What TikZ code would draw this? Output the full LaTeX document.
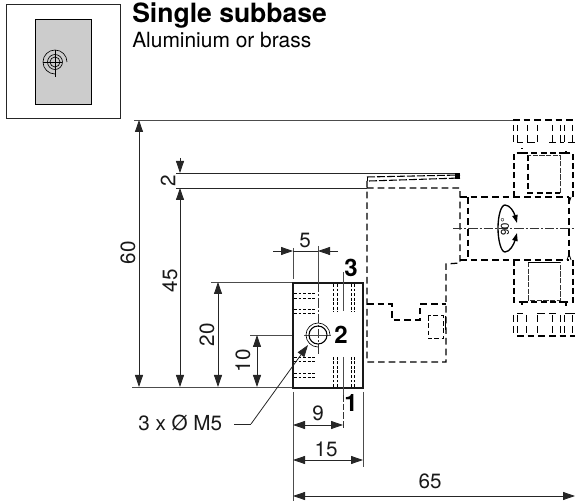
\documentclass[tikz,border=0pt]{standalone}
\usepackage{fontspec}
\setmainfont{TeX Gyre Heros}
\usetikzlibrary{arrows.meta}
\tikzset{
  x=0.75pt,y=-0.75pt,
  thin line/.style={line width=0.6pt,black!85},
  ext/.style={line width=0.55pt,black!70},
  hid/.style={line width=0.95pt,black,dash pattern=on 5pt off 3pt},
  hidfine/.style={line width=0.55pt,black,dash pattern=on 2.2pt off 1.2pt},
  hidport/.style={line width=0.85pt,black,dash pattern=on 4.5pt off 2.5pt},
  hidcomb/.style={line width=0.75pt,black},
  centre/.style={line width=0.5pt,black!80,dash pattern=on 7pt off 1.5pt on 1.5pt off 1.5pt},
  dim/.style={thin line,{Triangle[length=9pt,width=6pt]}-{Triangle[length=9pt,width=6pt]}},
  dimr/.style={thin line,-{Triangle[length=9pt,width=6pt]}},
  lab/.style={font=\fontsize{15.5pt}{17pt}\selectfont,inner sep=0pt,text=black!90},
  big/.style={font=\fontsize{18pt}{20pt}\selectfont\bfseries,inner sep=0pt},
}
\begin{document}
\begin{tikzpicture}
\useasboundingbox (0,0) rectangle (575,502);
% icon
\draw[line width=0.75pt,black!85] (6,5) rectangle (120,119);
\draw[line width=0.75pt,black,fill=black!20] (35,20) rectangle (91,105);
\draw[line width=0.5pt] (55,62) circle (7.5);
\draw[line width=0.5pt] (55,62) circle (5);
\draw[line width=0.5pt] (43,62) -- (62,62) (55,50) -- (55,77);
\draw[line width=0.5pt] (67,62) arc (0:-270:12);
% title
\node[anchor=base west,inner sep=0pt,font=\fontsize{19.9pt}{22pt}\selectfont\bfseries] (title) at (132,23) {Single subbase};
\node[anchor=base west,inner sep=0pt,font=\fontsize{15.7pt}{18pt}\selectfont] (sub) at (132,48) {Aluminium or brass};
% extension lines
\draw[ext] (134,120) -- (514,120);
\draw[ext] (132,387) -- (293,387);
\draw[thin line] (176,173) -- (460,173);
\draw[thin line] (176,188) -- (367,188);
\draw[ext] (211,282) -- (293,282);
\draw[ext] (250,335) -- (293,335);
% vertical dimensions
\draw[dim] (139,120) -- (139,387);
\draw[dimr] (180,158) -- (180,173);
\draw[dim] (180,188) -- (180,387);
\draw[dim] (218,282) -- (218,387);
\draw[dim] (257,335) -- (257,387);
\node[lab,rotate=90] (d60) at (128,253) {60};
\node[lab,rotate=90] (d45) at (170,281) {45};
\node[lab,rotate=90] (d2) at (168,181) {2};
\node[lab,rotate=90] (d20) at (207,335) {20};
\node[lab,rotate=90] (d10) at (243,361) {10};
% block
\draw[line width=0.9pt,black!90] (293,283) rectangle (363,388);
\draw[ext] (293,248) -- (293,279);
\draw[ext] (318,246) -- (318,283);
\draw[dimr] (273,251) -- (293,251);
\draw[thin line] (293,251) -- (318,251);
\draw[dimr] (338,251) -- (318,251);
\node[lab] (d5) at (305,240) {5};
\node[big] (n3) at (351,268) {3};
\node[big] (n2) at (341,335) {2};
\node[big] (n1) at (351,403) {1};
% centre lines in block
\draw[centre] (318,283) -- (318,354);
\draw[ext] (304,335) -- (331,335);
\draw[ext] (343,272) -- (343,311);
\draw[ext] (343,357) -- (343,395);
% hole
\draw[line width=0.8pt] (318,335) circle (9);
\draw[line width=0.5pt] (330,335) arc (0:-270:12);
% hidden lines in block
\foreach \xx in {333,337,351,354}{
  \draw[hidfine] (\xx,284) -- (\xx,312);
  \draw[hidfine] (\xx,387) -- (\xx,357);
}
\foreach \yy in {293,298,309,313,357,361,373,377}{
  \draw[hidfine] (294,\yy) -- (316,\yy);
}
% leader
\coordinate (ldr) at (251,424);
\draw[dimr] (ldr) -- (308,345);
\draw[thin line] (234,424) -- (ldr);
\node[lab,anchor=base west] (m5) at (138,431) {3 x Ø M5};
% lower dimensions
\draw[ext] (293,392) -- (293,501);
\draw[ext] (363,392) -- (363,467);
\draw[line width=0.5pt,black!80,dash pattern=on 5pt off 1.5pt] (343,395) -- (343,428);
\draw[dim] (293,425) -- (343,425);
\draw[dim] (293,460) -- (363,460);
\draw[dim] (293,496) -- (575,496);
\node[lab] (d9) at (318,413) {9};
\node[lab] (d15) at (326,449) {15};
\node[lab] (d65) at (430,481) {65};
% dashed body
\draw[hid] (367,181) -- (367,362) -- (446,362) -- (446,264) -- (460,263) -- (460,188) -- (367,188);
\draw[hidfine,line width=0.8pt,dash pattern=on 6pt off 1.5pt] (367,177) -- (460,175);
\draw[hidfine,line width=0.8pt,dash pattern=on 6pt off 1.5pt] (369,181) -- (460,178);
\draw[line width=0.7pt] (367,181) -- (367,177);
\fill (455,173) rectangle (460,179);
\draw[hid] (367,304) -- (392,304) -- (392,320) -- (420,320) -- (420,304) -- (446,304);
\draw[hid,line width=0.75pt,dash pattern=on 3.5pt off 2pt] (428,316) rectangle (443,339);
\draw[line width=0.7pt] (445,316) -- (445,330);
% head
\draw[hid] (460,197) -- (569,197);
\draw[hid] (460,260) -- (569,260);
\draw[hid] (468,197) -- (468,260);
\draw[hid] (569,197) -- (569,260);
\draw[line width=0.6pt] (569,203) -- (571,197) (569,254) -- (571,260) (569,254) -- (567,260);
\draw[centre] (453,228) -- (575,228);
% upper port
\draw[hidport] (514,197) -- (514,153) -- (522,153) -- (522,148);
\draw[hidport] (573,197) -- (573,153) -- (566,153) -- (566,148);
\draw[hidport] (522,153) -- (566,153);
\draw[hidport] (528,155) -- (528,193) -- (560,193);
\draw[line width=0.7pt,black!80,dash pattern=on 4pt off 1pt] (560,193) -- (560,155) -- (528,155);
% upper comb
\draw[hid,line width=0.8pt] (513,120) -- (575,120);
\foreach \xx in {513,517,527,537,552,560,564,572}{
  \draw[hidcomb] (\xx,125) -- (\xx,131) (\xx,135) -- (\xx,142);
}
\draw[line width=0.75pt] (517,143) -- (523,143) (527,143) -- (535,143) (549,143) -- (556,143) (560,143) -- (564,143) (568,143) -- (575,143);
% lower port
\draw[hidport] (514,260) -- (514,302) -- (522,302) -- (522,308);
\draw[hidport] (573,260) -- (573,302) -- (566,302) -- (566,308);
\draw[hidport] (522,302) -- (566,302);
\draw[line width=0.7pt,black!80,dash pattern=on 4pt off 1pt] (528,262) -- (528,300) -- (560,300) -- (560,262);
\draw[line width=0.7pt] (528,262) -- (560,262);
% lower comb
\foreach \xx in {513,517,526,537,552,560,564,572}{
  \draw[hidcomb] (\xx,315) -- (\xx,322) (\xx,326) -- (\xx,333);
}
\draw[line width=0.75pt] (517,314) -- (523,314) (537,314) -- (545,314) (549,314) -- (556,314) (565,314) -- (575,314);
\draw[hid,line width=0.8pt] (517,336) -- (575,336);
% rotation mark
\node[rotate=90,inner sep=0pt,font=\fontsize{8.5pt}{9pt}\selectfont] (rot) at (505,227) {90°};
\draw[line width=1pt,{Triangle[length=6pt,width=4pt]}-{Triangle[length=6pt,width=4pt]}] (517,223) .. controls (514,212) and (510,205) .. (505,205) .. controls (501,205) and (498,216) .. (498,228) .. controls (498,240) and (501,252) .. (505,252) .. controls (510,252) and (514,244) .. (517,233);
\end{tikzpicture}
\end{document}
